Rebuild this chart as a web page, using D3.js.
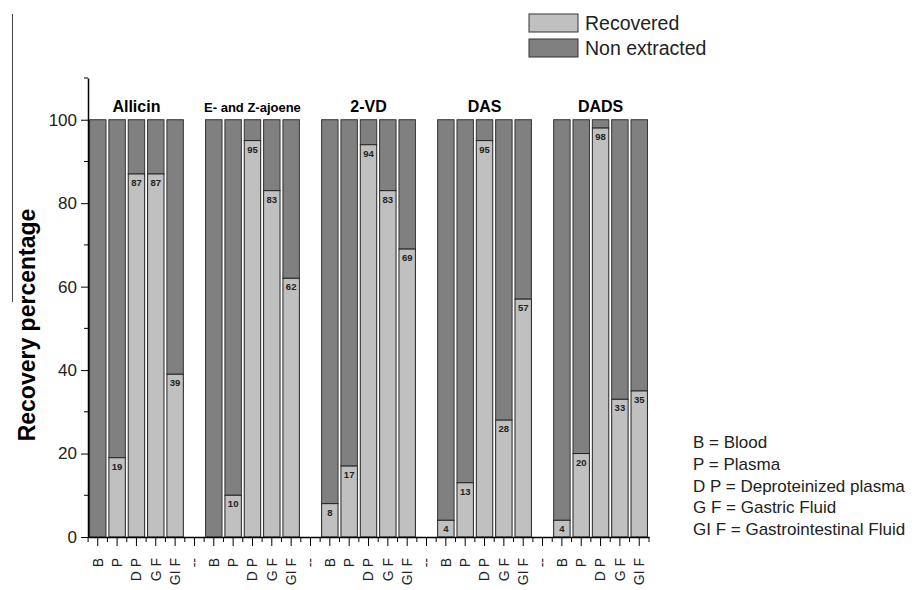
<!DOCTYPE html>
<html>
<head>
<meta charset="utf-8">
<script src="https://cdn.jsdelivr.net/npm/d3@7"></script>
<style>
  body { margin: 0; background: #fff; }
  text { font-family: Arial, "Liberation Sans", sans-serif; }
</style>
</head>
<body>
<svg id="chart" width="916" height="590"></svg>
<script>
// data
var compounds = ["Allicin", "E- and Z-ajoene", "2-VD", "DAS", "DADS"];
var samples = ["B", "P", "D P", "G F", "GI F"];
var recovered = {
  "Allicin":         [0, 19, 87, 87, 39],
  "E- and Z-ajoene": [0, 10, 95, 83, 62],
  "2-VD":            [8, 17, 94, 83, 69],
  "DAS":             [4, 13, 95, 28, 57],
  "DADS":            [4, 20, 98, 33, 35]
};
var yTicks = [0, 20, 40, 60, 80, 100];
var yMinor = [10, 30, 50, 70, 90, 110];
var notes = ["B = Blood", "P = Plasma", "D P = Deproteinized plasma", "G F = Gastric Fluid", "GI F = Gastrointestinal Fluid"];

var colRec = "#c0c0c0", colNon = "#808080";

var svg = d3.select("#chart");

// slot list: 5 bars per compound + a "--" gap slot between groups
let slots = [];
compounds.forEach(function(c, gi) {
  samples.forEach(function(s, si) {
    slots.push({ key: c + "|" + s, label: s, compound: c, value: recovered[c][si] });
  });
  if (gi < compounds.length - 1) slots.push({ key: "gap" + gi, label: "--", compound: null });
});

let x = d3.scaleBand().domain(slots.map(d => d.key)).range([88, 649]).paddingInner(0.15).paddingOuter(0.08);
let y = d3.scaleLinear().domain([0, 110]).range([537, 78]);

let bars = slots.filter(d => d.compound);

// non extracted part (top of the 100% stack)
svg.append("g").selectAll("rect")
  .data(bars).enter().append("rect")
    .attr("x", d => x(d.key))
    .attr("width", x.bandwidth())
    .attr("y", y(100))
    .attr("height", d => y(d.value) - y(100))
    .attr("fill", colNon)
    .attr("stroke", "#333").attr("stroke-width", 1);

svg.append("g").selectAll("rect")
  .data(bars.filter(d => d.value > 0)).enter().append("rect")
    .attr("x", d => x(d.key))
    .attr("width", x.bandwidth())
    .attr("y", d => y(d.value))
    .attr("height", d => y(0) - y(d.value))
    .attr("fill", colRec)
    .attr("stroke", "#222").attr("stroke-width", 1);

svg.append("g").selectAll("text")
  .data(bars.filter(d => d.value > 0)).enter().append("text")
    .attr("x", d => x(d.key) + x.bandwidth() / 2)
    .attr("y", d => y(d.value) + 12)
    .attr("text-anchor", "middle")
    .attr("font-size", 9.5).attr("font-weight", "bold").attr("fill", "#222")
    .text(d => d.value);

// group titles
compounds.forEach(function(c) {
  let mid = x(c + "|D P") + x.bandwidth() / 2;
  svg.append("text")
    .attr("x", mid).attr("y", 112)
    .attr("text-anchor", "middle")
    .attr("font-weight", "bold")
    .attr("font-size", c.indexOf("ajoene") >= 0 ? 13 : 16)
    .text(c);
});

// y axis
let yAxis = svg.append("g").attr("transform", "translate(88,0)")
  .call(d3.axisLeft(y).tickValues(yTicks).tickSize(7).tickPadding(4).tickSizeOuter(0));
yAxis.selectAll("text").attr("font-size", 17).attr("fill", "#222");
yAxis.append("g").selectAll("line")
  .data(yMinor).enter().append("line")
    .attr("x1", 0).attr("x2", -4)
    .attr("y1", d => y(d)).attr("y2", d => y(d))
    .attr("stroke", "#000");
yAxis.select(".domain").attr("stroke-width", 1.5);

// x axis
let xAxis = svg.append("g").attr("transform", "translate(0," + y(0) + ")")
  .call(d3.axisBottom(x).tickFormat((k, i) => slots[i].label).tickSize(9).tickSizeOuter(0));
xAxis.select(".domain").attr("stroke-width", 1.5);
xAxis.selectAll(".tick text")
  .attr("font-size", 14).attr("fill", "#222")
  .attr("transform", "rotate(-90)")
  .attr("text-anchor", "end")
  .attr("dy", "0.35em")
  .attr("y", 0).attr("x", -21);
let half = x.step() / 2;
xAxis.append("g").selectAll("line")
  .data(slots.map(d => x(d.key) + x.bandwidth() / 2 - half).concat([649])).enter().append("line")
    .attr("x1", d => d).attr("x2", d => d)
    .attr("y1", 0).attr("y2", 5)
    .attr("stroke", "#000");

// y title
svg.append("text")
  .attr("transform", "translate(35,325) rotate(-90)")
  .attr("text-anchor", "middle")
  .attr("font-size", 23).attr("font-weight", "bold")
  .text("Recovery percentage");

// stray frame line at the left edge
svg.append("line").attr("x1", 12.5).attr("x2", 12.5).attr("y1", 14).attr("y2", 302)
  .attr("stroke", "#444").attr("stroke-width", 1);

// legend
let legend = [{ name: "Recovered", c: colRec }, { name: "Non extracted", c: colNon }];
let lg = svg.append("g").attr("transform", "translate(529,14)");
legend.forEach(function(d, i) {
  lg.append("rect").attr("x", 0).attr("y", i * 25).attr("width", 49).attr("height", 18)
    .attr("fill", d.c).attr("stroke", "#333");
  lg.append("text").attr("x", 56).attr("y", i * 25 + 16).attr("font-size", 19.5).attr("fill", "#222").text(d.name);
});

// abbreviation notes
svg.append("g").selectAll("text")
  .data(notes).enter().append("text")
    .attr("x", 693).attr("y", (d, i) => 448 + i * 21.8)
    .attr("font-size", 17).attr("fill", "#222")
    .text(d => d);
</script>
</body>
</html>
